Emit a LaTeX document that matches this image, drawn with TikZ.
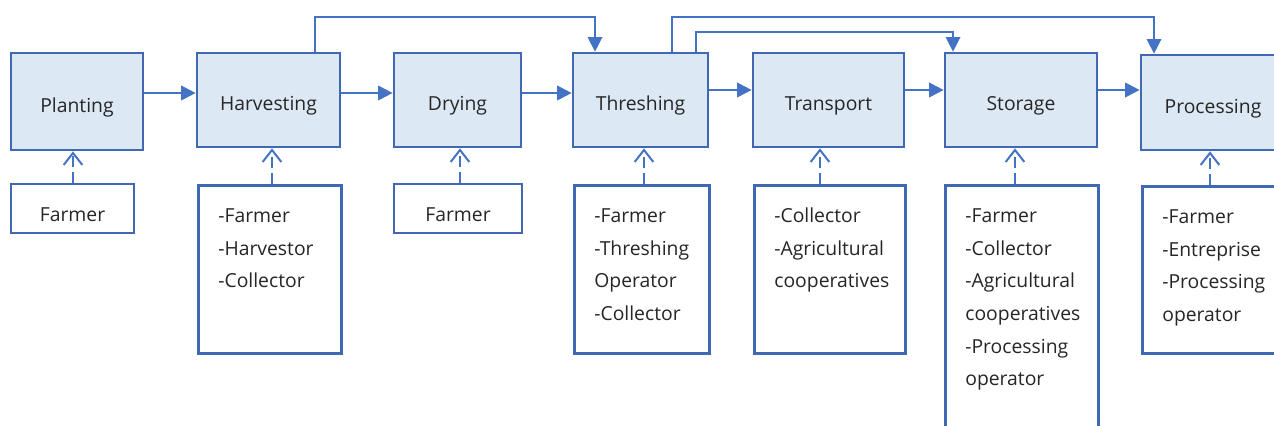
\documentclass[tikz,border=0pt]{standalone}
\usepackage{fontspec}
\setmainfont{Open Sans}
\usetikzlibrary{arrows.meta}
\definecolor{chainline}{RGB}{68,114,196}
\definecolor{stageedge}{RGB}{65,104,178}
\definecolor{stagefill}{RGB}{221,232,245}
\definecolor{labeltext}{RGB}{38,38,38}
\tikzset{
  stage/.style={draw=stageedge, fill=stagefill, line width=2pt, inner sep=0pt,
    text height=16pt, text depth=0pt,
    text=labeltext, font=\fontsize{14.5}{17}\selectfont},
  actor/.style={draw=stageedge, fill=white, line width=2pt, inner sep=0pt,
    text height=20pt, text depth=0pt,
    text=labeltext, font=\fontsize{14.5}{17}\selectfont},
  actors/.style={draw=stageedge, fill=white, line width=2pt, anchor=north west,
    align=left, inner xsep=15pt, inner ysep=8pt, text height=19.75pt,
    text=labeltext, font=\fontsize{14.5}{24.5}\selectfont,
    execute at begin node={\hyphenpenalty=10000\exhyphenpenalty=10000}},
  flow/.style={->, chainline, line width=1.5pt},
  link/.style={->, chainline, line width=1pt},
  helps/.style={chainline, line width=1.5pt, dash pattern=on 8pt off 4pt,
    -{Straight Barb[length=9pt,width=14pt]}}
}
\begin{document}
\begin{tikzpicture}[x=0.75pt,y=-0.75pt,>={Triangle[length=11pt,width=11pt]}]
  \clip (0,0) rectangle (1274,425);
  % stages
  \node [stage, minimum width=99pt, minimum height=72.75pt] (planting) at (77,101.5) {Planting};
  \node [stage, minimum width=107.25pt, minimum height=70.5pt] (harvesting) at (268.5,100) {Harvesting};
  \node [stage, minimum width=95.25pt, minimum height=70.5pt] (drying) at (457.5,100) {Drying};
  \node [stage, minimum width=101.25pt, minimum height=70.5pt] (threshing) at (640.5,100) {Threshing};
  \node [stage, minimum width=113.25pt, minimum height=70.5pt] (transport) at (828.5,100) {Transport};
  \node [stage, minimum width=114pt, minimum height=70.5pt] (storage) at (1021,100) {Storage};
  \node [stage, minimum width=108pt, minimum height=71.25pt] (processing) at (1213,102.5) {Processing};

  % who takes part
  \node [actor, minimum width=92.25pt, minimum height=36.75pt] (plantingwho) at (72.5,208.5) {Farmer};
  \node [actors, text width=77.25pt, text depth=90.25pt] (harvestingwho) at (197,184)
    {-Farmer\\-Harvestor\\-Collector};
  \node [actor, minimum width=96pt, minimum height=36.75pt] (dryingwho) at (458,208.5) {Farmer};
  \node [actors, text width=71.25pt, text depth=90.25pt] (threshingwho) at (573,184)
    {-Farmer\\-Threshing\\Operator\\-Collector};
  \node [actors, text width=83.25pt, text depth=90.25pt] (transportwho) at (753,184)
    {-Collector\\-Agricultural\\cooperatives};
  \node [actors, text width=84.75pt, text depth=160pt] (storagewho) at (944,184)
    {-Farmer\\-Collector\\-Agricultural\\cooperatives\\-Processing\\operator};
  \node [actors, text width=81.75pt, text depth=89.5pt] (processingwho) at (1141,185)
    {-Farmer\\-Entreprise\\-Processing\\operator};

  % main chain
  \draw [flow] (planting.east |- 0,93) -- (harvesting.west |- 0,93);
  \draw [flow] (harvesting.east |- 0,93) -- (drying.west |- 0,93);
  \draw [flow] (drying.east |- 0,93) -- (threshing.west |- 0,93);
  \draw [flow] (threshing.east |- 0,90) -- (transport.west |- 0,90);
  \draw [flow] (transport.east |- 0,90) -- (storage.west |- 0,90);
  \draw [flow] (storage.east |- 0,90) -- (processing.west |- 0,90);

  % skipping links
  \draw [link] (315,0 |- harvesting.north) |- (595,17) -- (595,0 |- threshing.north);
  \draw [link] (672,0 |- threshing.north) |- (1154,17) -- (1154,0 |- processing.north);
  \draw [link] (696,0 |- threshing.north) |- (953,32) -- (953,0 |- storage.north);

  % actors to stages
  \draw [helps] (73,0 |- plantingwho.north) -- (73,0 |- planting.south);
  \draw [helps] (272,0 |- harvestingwho.north) -- (272,0 |- harvesting.south);
  \draw [helps] (460,0 |- dryingwho.north) -- (460,0 |- drying.south);
  \draw [helps] (644,0 |- threshingwho.north) -- (644,0 |- threshing.south);
  \draw [helps] (820,0 |- transportwho.north) -- (820,0 |- transport.south);
  \draw [helps] (1015,0 |- storagewho.north) -- (1015,0 |- storage.south);
  \draw [helps] (1210,0 |- processingwho.north) -- (1210,0 |- processing.south);
\end{tikzpicture}
\end{document}
